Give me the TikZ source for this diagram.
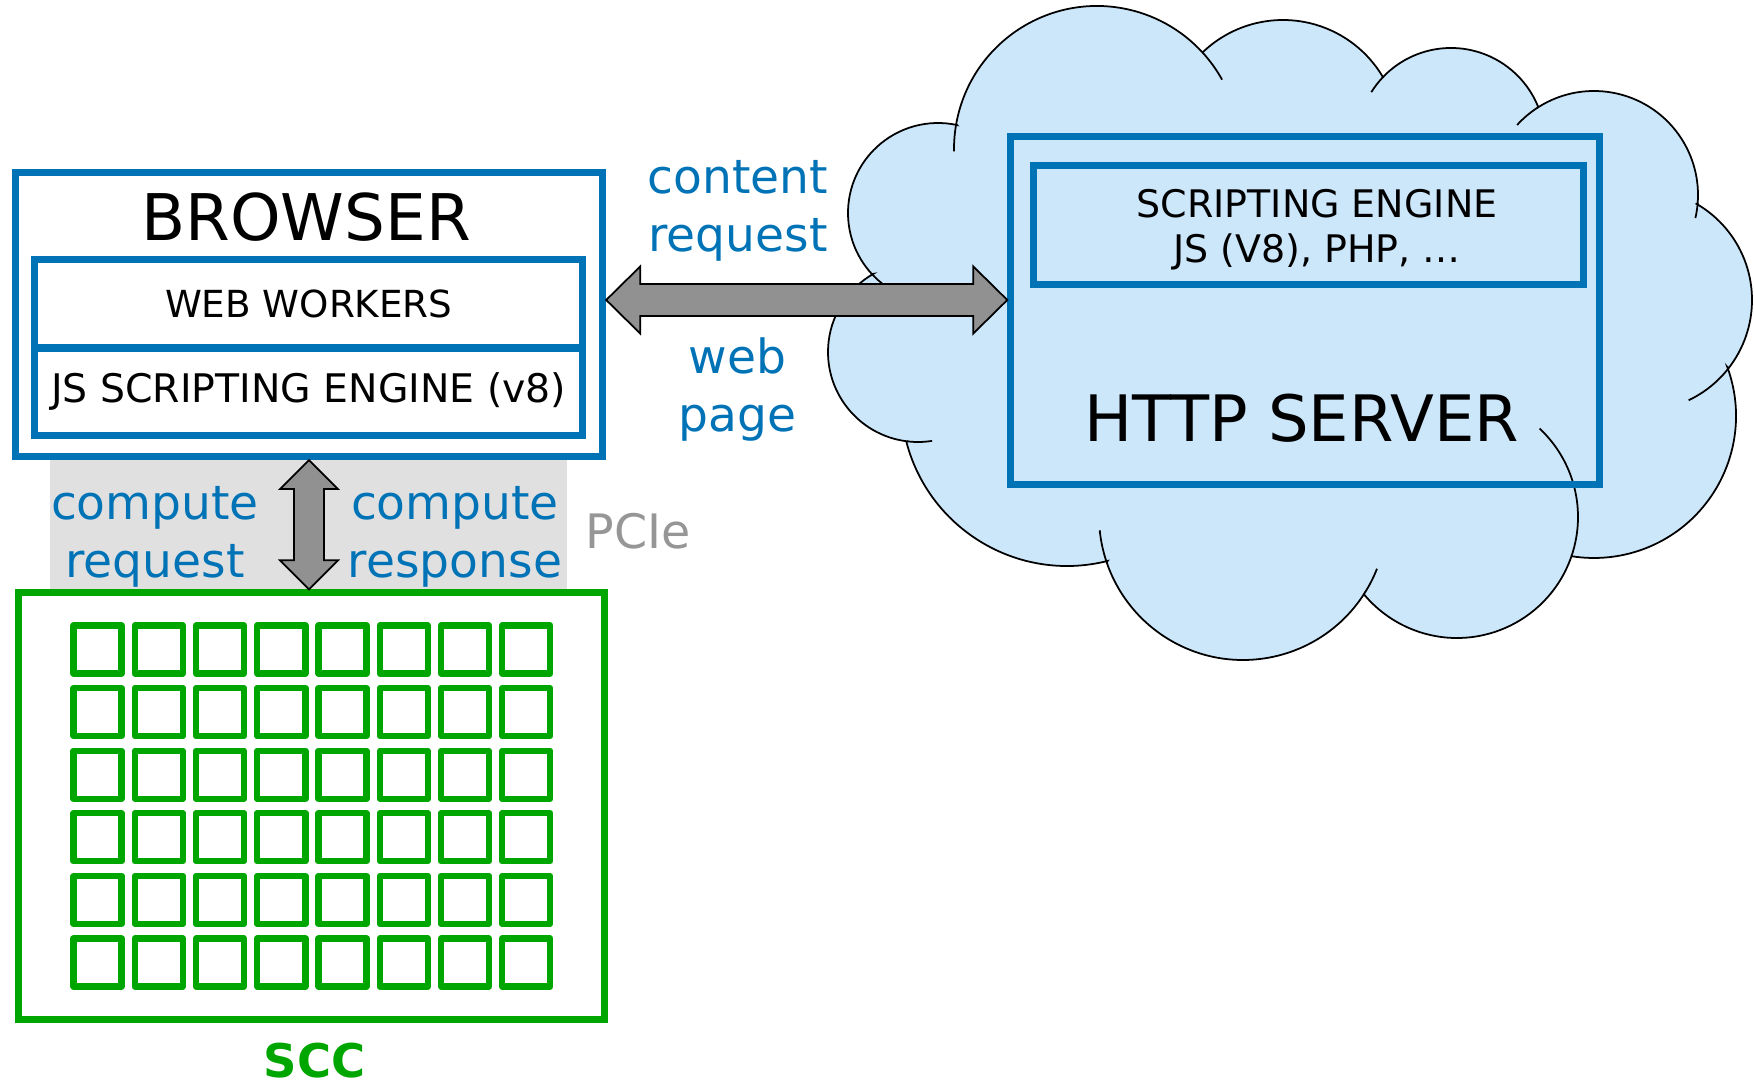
\documentclass[tikz,border=0pt]{standalone}
\usepackage{fontspec}
\setmainfont{DejaVu Sans}
\usetikzlibrary{calc}

\definecolor{boxblue}{RGB}{0,115,183}
\definecolor{cloudblue}{RGB}{204,230,250}
\definecolor{sccgreen}{RGB}{0,166,0}
\definecolor{bandgray}{RGB}{224,224,224}
\definecolor{arrowgray}{RGB}{145,145,145}
\definecolor{labelgray}{RGB}{150,150,150}

\begin{document}
\begin{tikzpicture}[x=0.01cm, y=0.01cm,
    bluebox/.style={draw=boxblue, line width=2pt, inner sep=0pt},
    greenbox/.style={draw=sccgreen, line width=2pt, inner sep=0pt},
    core/.style={draw=sccgreen, line width=1.8pt, minimum size=0.48cm, inner sep=0pt, line join=round},
    flow/.style={fill=arrowgray, draw=black, line width=0.5pt},
    cloudline/.style={draw=black, line width=0.5pt},
    bluetext/.style={text=boxblue, align=center, anchor=base, font=\fontsize{13.4}{16.5}\selectfont}]
    \useasboundingbox (0,0) rectangle (1754,-1086);

    % PCIe band
    \fill[bandgray] (50,-460) rectangle (567,-590);

    % cloud
    \filldraw[cloudline, fill=cloudblue] ([shift={(938,-213)}]222.7:90) arc[start angle=222.7, end angle=77.8, radius=90]
        -- ([shift={(1097,-149)}]170:143) arc[start angle=170, end angle=42.5, radius=143]
        -- ([shift={(1283,-136)}]133.6:116) arc[start angle=133.6, end angle=30.5, radius=116]
        -- ([shift={(1451,-142)}]136:94) arc[start angle=136, end angle=22, radius=94]
        -- ([shift={(1594,-195)}]122.5:104) arc[start angle=122.5, end angle=-4.4, radius=104]
        -- ([shift={(1641,-300)}]60:111) arc[start angle=60, end angle=-38, radius=111]
        -- ([shift={(1594,-416)}]20.2:142) arc[start angle=20.2, end angle=-99.1, radius=142]
        -- ([shift={(1457,-517)}]-18.9:121) arc[start angle=-18.9, end angle=-140.2, radius=121]
        -- ([shift={(1243,-516)}]-32.8:144) arc[start angle=-32.8, end angle=-161.2, radius=144]
        -- ([shift={(1067,-400)}]-75.8:166) arc[start angle=-75.8, end angle=-165.3, radius=166]
        -- ([shift={(918,-352)}]-97:90) arc[start angle=-97, end angle=-240.3, radius=90]
        -- cycle;
    \foreach \cx/\cy/\r/\a/\b in {1097/149/143/170/181, 1097/149/143/42.5/29, 1451/142/94/148/136,
        1594/195/104/137.7/122.5, 1594/195/104/-4.4/-12.8, 1641/300/111/-38/-64.6, 1457/517/121/47/-18.9,
        1243/516/144/-21.5/-32.8, 1243/516/144/-161.2/-174.3, 918/352/90/-97/-81, 938/213/90/222.7/234}
        \draw[cloudline] ([shift={(\cx,-\cy)}]\a:\r) arc[start angle=\a, end angle=\b, radius=\r];

    % browser
    \node[bluebox, fill=white, minimum width=5.87cm, minimum height=2.84cm] (browser) at (309,-314.5) {};
    \node[bluebox, minimum width=5.475cm, minimum height=0.88cm, font=\fontsize{10.6}{12}\selectfont] (workers) at (308.75,-304) {WEB WORKERS};
    \node[bluebox, minimum width=5.475cm, minimum height=0.875cm, font=\fontsize{11.2}{13}\selectfont] (jsengine) at (308.75,-391.75) {JS SCRIPTING ENGINE (v8)};
    \node[anchor=base, font=\fontsize{18.3}{22}\selectfont] (browsertitle) at (306,-241) {BROWSER};

    % server
    \node[bluebox, minimum width=5.88cm, minimum height=3.47cm] (server) at (1305,-310.5) {};
    \node[bluebox, minimum width=5.49cm, minimum height=1.18cm] (scripting) at (1308.5,-225) {};
    \node[align=center, anchor=base, font=\fontsize{10.8}{12.8}\selectfont] (scriptingtext) at (1317,-263) {SCRIPTING ENGINE\\JS (V8), PHP, …};
    \node[anchor=base, font=\fontsize{18.2}{22}\selectfont] (servertitle) at (1301.5,-442) {HTTP SERVER};

    % scc
    \node[greenbox, minimum width=5.85cm, minimum height=4.26cm] (scc) at (311.5,-806) {};
    \foreach \i in {0,...,7}
        \foreach \j in {0,...,5}
            \node[core] (core-\i-\j) at (97.6+61.24*\i, -649.5-62.6*\j) {};
    \node[anchor=base, text=sccgreen, font=\bfseries\fontsize{13.2}{16}\selectfont] (scclabel) at (314.5,-1078) {SCC};

    % arrows
    \coordinate (wire) at (0,-300);
    \coordinate (webL) at (browser.east |- wire);
    \coordinate (webR) at (server.west |- wire);
    \draw[flow] (webL) -- ++(34,33.5) -- ++(0,-17.5) -- ($(webR)+(-34,16)$) -- ++(0,17.5) -- (webR)
        -- ++(-34,-33.5) -- ++(0,17.5) -- ($(webL)+(34,-16)$) -- ++(0,-17.5) -- cycle;
    \coordinate (pcieT) at (browser.south);
    \coordinate (pcieB) at (browser.south |- scc.north);
    \draw[flow] (pcieT) -- ++(29,-29) -- ++(-14,0) -- ($(pcieB)+(15,29)$) -- ++(14,0) -- (pcieB)
        -- ++(-29,29) -- ++(14,0) -- ($(pcieT)+(-15,-29)$) -- ++(-14,0) -- cycle;

    % labels
    \node[bluetext] (contentreq) at (738,-252) {content\\request};
    \node[bluetext] (webpage) at (737.5,-432) {web\\page};
    \node[bluetext] (computereq) at (155,-578) {compute\\request};
    \node[bluetext] (computeresp) at (455,-578) {compute\\response};
    \node[anchor=base, text=labelgray, font=\fontsize{13.5}{16}\selectfont] (pcie) at (638,-549) {PCIe};
\end{tikzpicture}
\end{document}
